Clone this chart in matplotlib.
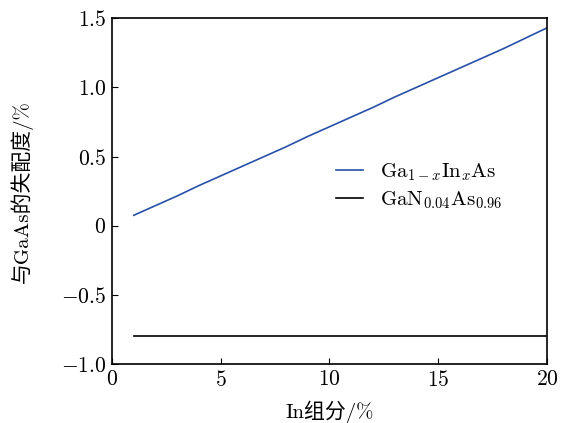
import matplotlib
matplotlib.use("Agg")
import matplotlib.pyplot as plt
from matplotlib.ticker import FuncFormatter

plt.rcParams["font.family"] = ["cmr10", "Noto Sans CJK SC"]
plt.rcParams["mathtext.fontset"] = "cm"
plt.rcParams["axes.unicode_minus"] = False

in_content = [1, 2, 3, 4, 5, 6, 7, 8, 9, 10, 11, 12, 13, 14, 15, 16, 17, 18, 19, 20]
gainas_mismatch = [0.075, 0.145, 0.215, 0.29, 0.36, 0.43, 0.50, 0.57, 0.645, 0.715,
                   0.785, 0.855, 0.93, 1.0, 1.07, 1.14, 1.21, 1.28, 1.355, 1.43]
ganas_mismatch = [-0.8] * len(in_content)

xticks = [0, 5, 10, 15, 20]
yticks = [-1.0, -0.5, 0, 0.5, 1.0, 1.5]


def fmt_y(v, _pos):
    if abs(v) < 1e-9:
        return "$0$"
    return f"${v:.1f}$"


fig = plt.figure(figsize=(5.61, 4.23), dpi=100)
ax = fig.add_axes([0.1996, 0.1395, 0.7754, 0.8175])

ax.plot(in_content, gainas_mismatch, color="#2850a8", linewidth=1.2,
        label=r"$\mathrm{Ga}_{1-x}\mathrm{In}_x\mathrm{As}$")
ax.plot(in_content, ganas_mismatch, color="black", linewidth=1.2,
        label=r"$\mathrm{GaN}_{0.04}\mathrm{As}_{0.96}$")

ax.set_xlim(0, 20)
ax.set_ylim(-1.0, 1.5)
ax.set_xticks(xticks)
ax.set_yticks(yticks)
ax.xaxis.set_major_formatter(FuncFormatter(lambda v, p: f"${int(v)}$"))
ax.yaxis.set_major_formatter(FuncFormatter(fmt_y))
ax.tick_params(direction="in", length=4, width=0.8, labelsize=15.5, pad=4)
for s in ax.spines.values():
    s.set_linewidth(1.2)

ax.set_xlabel("In组分/%", fontsize=15, labelpad=8)
ax.set_ylabel("与GaAs的失配度/%", fontsize=15, labelpad=20)

ax.legend(loc="center right", bbox_to_anchor=(0.94, 0.515), frameon=False,
          fontsize=15, handlelength=1.3, handletextpad=0.8, labelspacing=0.3)

fig.savefig("out.png", dpi=100)
